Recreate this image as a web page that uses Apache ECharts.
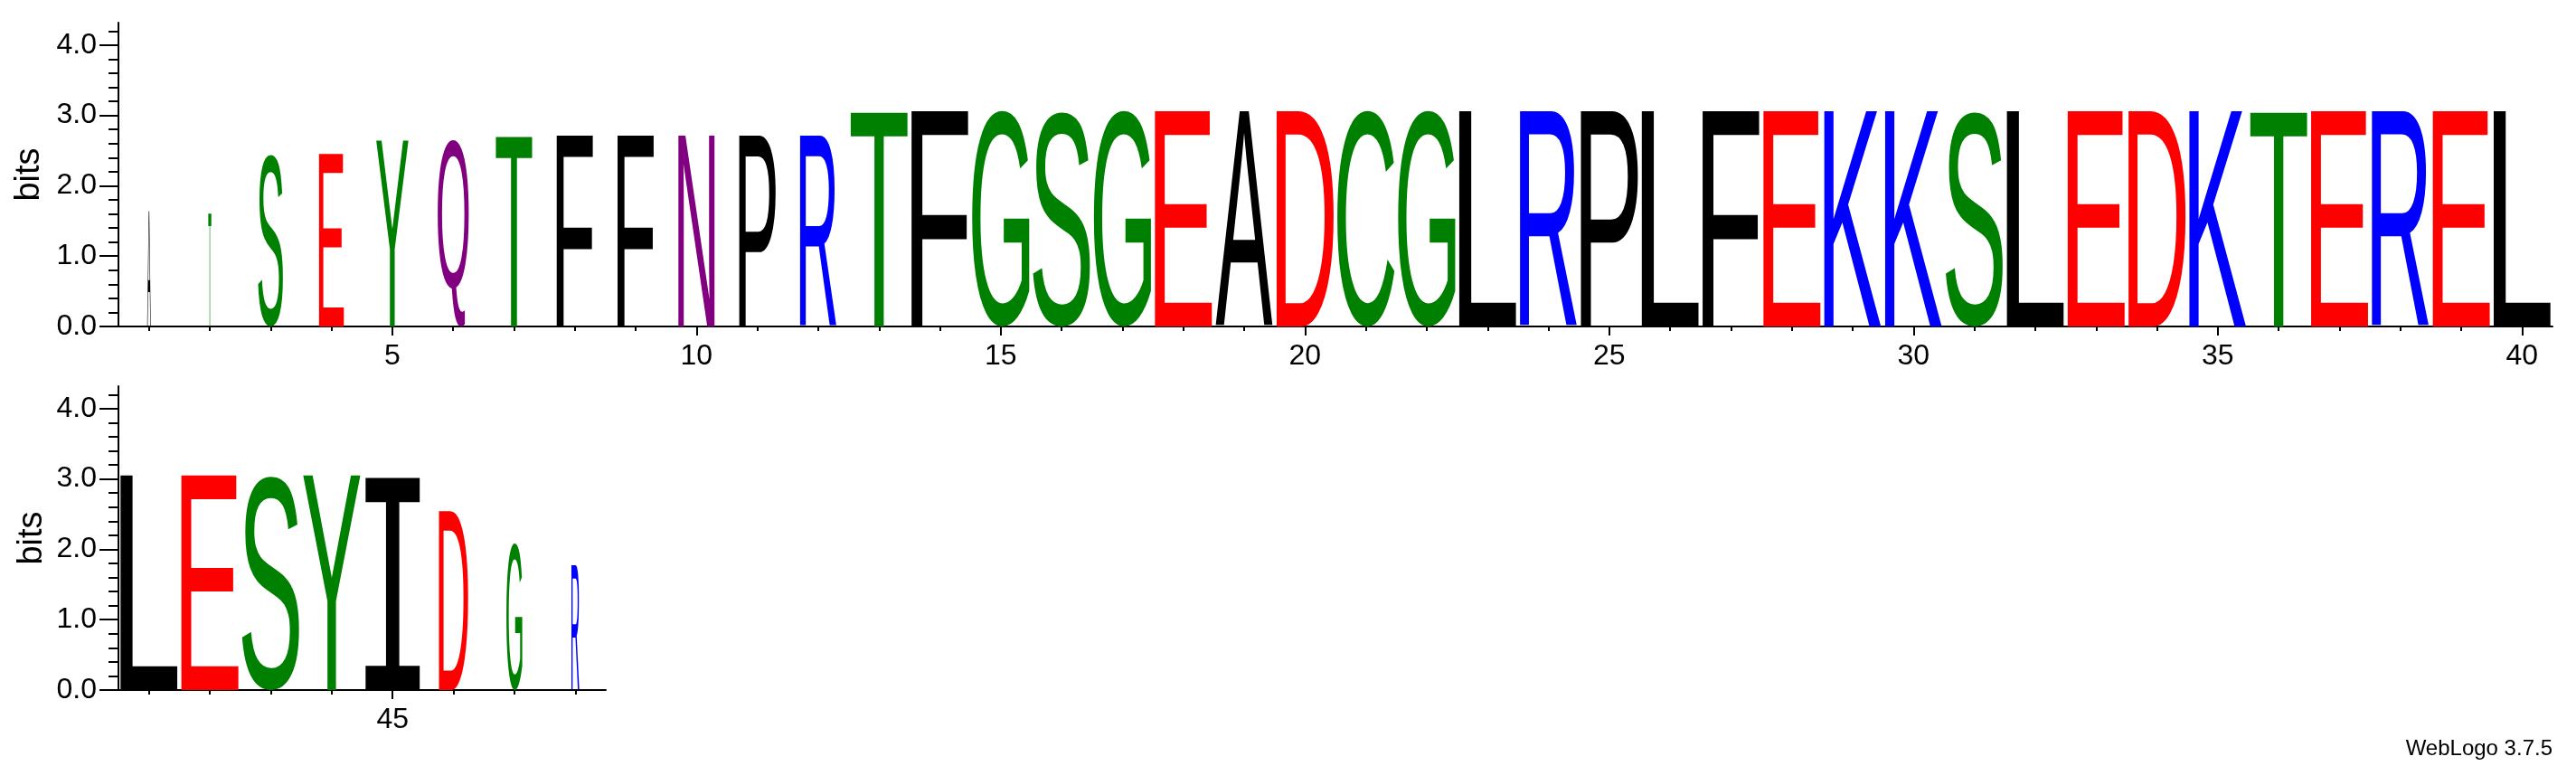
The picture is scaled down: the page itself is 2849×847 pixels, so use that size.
<!DOCTYPE html>
<html>
<head>
<meta charset="utf-8">
<title>WebLogo</title>
<script src="https://cdn.jsdelivr.net/npm/echarts@6/dist/echarts.min.js"></script>
<style>
  html, body { margin: 0; padding: 0; background: #fff; }
  #logo { width: 2849px; height: 847px; }
</style>
</head>
<body>
<div id="logo"></div>
<script>
// sequence positions and the (single visible) residue in each stack
const positions = [1, 2, 3, 4, 5, 6, 7, 8, 9, 10, 11, 12, 13, 14, 15, 16, 17, 18, 19, 20,
  21, 22, 23, 24, 25, 26, 27, 28, 29, 30, 31, 32, 33, 34, 35, 36, 37, 38, 39, 40,
  41, 42, 43, 44, 45, 46, 47, 48];
const letters = ['A', 'T', 'S', 'E', 'Y', 'Q', 'T', 'F', 'F', 'N', 'P', 'R', 'T', 'F', 'G', 'S', 'G', 'E', 'A', 'D',
  'C', 'G', 'L', 'R', 'P', 'L', 'F', 'E', 'K', 'K', 'S', 'L', 'E', 'D', 'K', 'T', 'E', 'R', 'E', 'L',
  'L', 'E', 'S', 'Y', 'I', 'D', 'G', 'R'];
// stack height in bits
const bits = [1.64, 1.63, 2.46, 2.46, 2.65, 2.65, 2.72, 2.72, 2.72, 2.72, 2.72, 2.72, 3.07, 3.07, 3.07, 3.07, 3.07, 3.07, 3.07, 3.07,
  3.07, 3.07, 3.07, 3.07, 3.07, 3.07, 3.07, 3.07, 3.07, 3.07, 3.07, 3.07, 3.07, 3.07, 3.07, 3.07, 3.07, 3.07, 3.07, 3.07,
  3.06, 3.06, 3.06, 3.06, 3.02, 2.55, 2.08, 1.77];
// visible stack width (fraction of a column), narrow where the column is mostly gaps
const stackWidth = [0.06, 0.05, 0.41, 0.41, 0.53, 0.51, 0.6, 0.6, 0.6, 0.6, 0.6, 0.6, 0.94, 0.94, 0.94, 0.94, 0.94, 0.94, 0.94, 0.94,
  0.94, 0.94, 0.94, 0.94, 0.94, 0.94, 0.94, 0.94, 0.94, 0.94, 0.94, 0.94, 0.94, 0.94, 0.94, 0.94, 0.94, 0.94, 0.94, 0.94,
  0.94, 0.94, 0.94, 0.94, 0.9, 0.48, 0.26, 0.13];

const xMajorRow1 = [5, 10, 15, 20, 25, 30, 35, 40];
const xMajorRow2 = [45];
const yTicks = [0, 1, 2, 3, 4];
const yMinorTicks = [0.2, 0.4, 0.6, 0.8, 1.2, 1.4, 1.6, 1.8, 2.2, 2.4, 2.6, 2.8, 3.2, 3.4, 3.6, 3.8, 4.2];
const maxBits = 4.32;

// chemistry colour scheme
const colors = {
  G: '#008000', S: '#008000', T: '#008000', Y: '#008000', C: '#008000',
  N: '#800080', Q: '#800080',
  K: '#0000ff', R: '#0000ff', H: '#0000ff',
  D: '#ff0000', E: '#ff0000',
  A: '#000', V: '#000', L: '#000', I: '#000', P: '#000', W: '#000', F: '#000', M: '#000'
};

const FONT = '200px "Liberation Sans"';
const FONT_I = '200px "DejaVu Sans Mono"';
const measureCtx = document.createElement('canvas').getContext('2d');
const boxCache = {};
function glyphBox(ch, font) {
  const key = font + ch;
  if (!boxCache[key]) {
    measureCtx.font = font;
    measureCtx.textAlign = 'left';
    measureCtx.textBaseline = 'middle';
    const m = measureCtx.measureText(ch);
    boxCache[key] = {
      l: m.actualBoundingBoxLeft, r: m.actualBoundingBoxRight,
      a: m.actualBoundingBoxAscent, d: m.actualBoundingBoxDescent
    };
  }
  return boxCache[key];
}

// stretch each glyph so its ink fills the stack box
const renderLetter = offset => (params, api) => {
  const ch = letters[offset + params.dataIndex];
  const base = api.coord([api.value(0), 0]);
  const top = api.coord([api.value(0), api.value(1)]);
  const w = api.size([api.value(2), 0])[0];
  const h = base[1] - top[1];
  const font = ch === 'I' ? FONT_I : FONT;
  const g = glyphBox(ch, font);
  return {
    type: 'text',
    x: base[0] - w / 2,
    y: base[1],
    scaleX: w / (g.l + g.r),
    scaleY: h / (g.a + g.d),
    style: {
      text: ch, font: font, fill: colors[ch],
      align: 'left', verticalAlign: 'middle',
      x: g.l, y: -g.d
    }
  };
};

const rowData = (from, to) => positions.slice(from, to).map((p, i) => [p, bits[from + i], stackWidth[from + i]]);

const axisColor = '#000';
const labelFont = { color: '#000', fontSize: 32, fontFamily: 'Liberation Sans' };

// two overlapping x axes per row: short ticks at every column, long ticks + labels every 5
const xAxes = (gridIndex, min, max, ticks, major) => [
  {
    type: 'value', gridIndex, min, max, position: 'bottom',
    axisLine: { show: true, onZero: false, lineStyle: { color: axisColor, width: 2 } },
    axisTick: { show: true, length: 5, lineStyle: { color: axisColor, width: 2 }, customValues: ticks },
    axisLabel: { show: false },
    splitLine: { show: false }
  },
  {
    type: 'value', gridIndex, min, max, position: 'bottom',
    axisLine: { show: false, onZero: false },
    axisTick: { show: true, length: 10, lineStyle: { color: axisColor, width: 2 }, customValues: major },
    axisLabel: Object.assign({ show: true, margin: 17, customValues: major }, labelFont),
    splitLine: { show: false }
  }
];

const yAxes = gridIndex => [
  {
    type: 'value', gridIndex, min: 0, max: maxBits, position: 'left',
    name: 'bits', nameLocation: 'middle', nameGap: 76,
    nameTextStyle: { color: '#000', fontSize: 38, fontFamily: 'Liberation Sans' },
    axisLine: { show: true, onZero: false, lineStyle: { color: axisColor, width: 2 } },
    axisTick: { show: true, length: 21, lineStyle: { color: axisColor, width: 2 }, customValues: yTicks },
    axisLabel: Object.assign({ show: true, margin: 24, customValues: yTicks, formatter: v => v.toFixed(1) }, labelFont),
    splitLine: { show: false }
  },
  {
    type: 'value', gridIndex, min: 0, max: maxBits, position: 'left',
    axisLine: { show: false, onZero: false },
    axisTick: { show: true, length: 11, lineStyle: { color: axisColor, width: 2 }, customValues: yMinorTicks },
    axisLabel: { show: false },
    splitLine: { show: false }
  }
];

const chart = echarts.init(document.getElementById('logo'), null, { renderer: 'canvas' });
chart.setOption({
  animation: false,
  backgroundColor: '#fff',
  grid: [
    { left: 131, right: 26, top: 25, height: 336, containLabel: false, outerBoundsMode: 'none' },
    { left: 131, width: 539, top: 427, height: 336, containLabel: false, outerBoundsMode: 'none' }
  ],
  xAxis: [
    ...xAxes(0, 0.5, 40.5, positions.slice(0, 40), xMajorRow1),
    ...xAxes(1, 40.5, 48.5, positions.slice(40), xMajorRow2)
  ],
  yAxis: [...yAxes(0), ...yAxes(1)],
  series: [
    {
      type: 'custom', xAxisIndex: 0, yAxisIndex: 0,
      encode: { x: 0, y: 1 },
      renderItem: renderLetter(0),
      data: rowData(0, 40)
    },
    {
      type: 'custom', xAxisIndex: 2, yAxisIndex: 2,
      encode: { x: 0, y: 1 },
      renderItem: renderLetter(40),
      data: rowData(40, 48)
    }
  ],
  graphic: [
    {
      type: 'text', right: 26, top: 816,
      style: { text: 'WebLogo 3.7.5', fill: '#000', font: '24px "Liberation Sans"' }
    }
  ]
});
</script>
</body>
</html>
